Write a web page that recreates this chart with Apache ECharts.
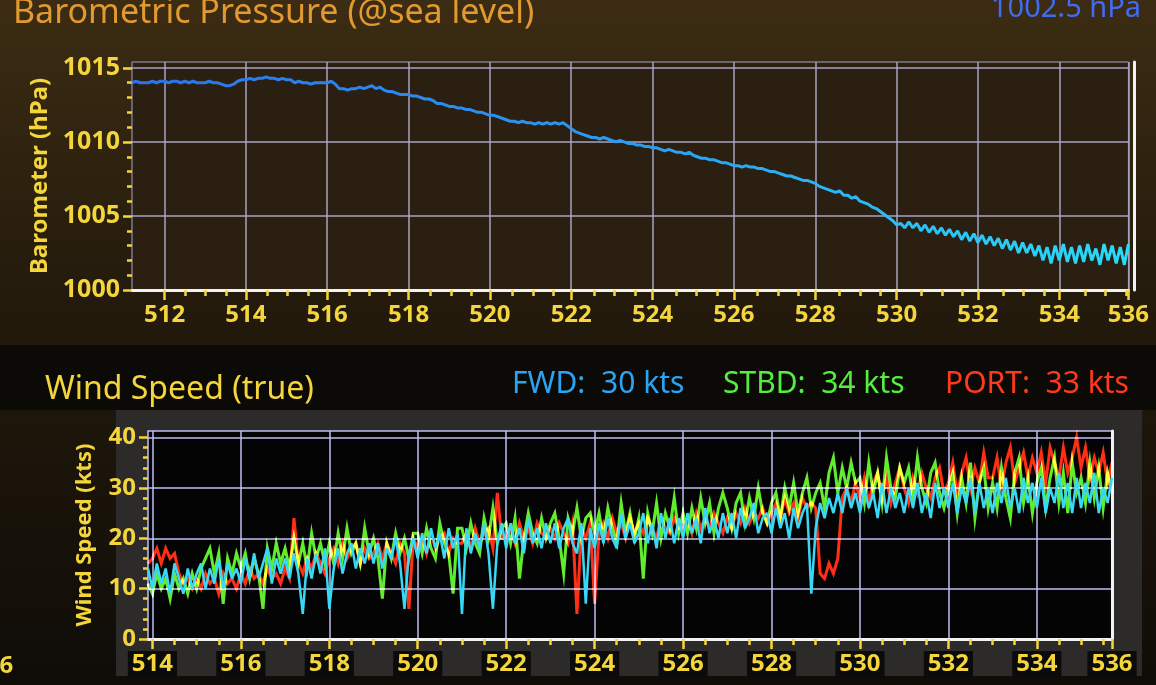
<!DOCTYPE html>
<html>
<head>
<meta charset="utf-8">
<title>Barometric Pressure / Wind Speed</title>
<script src="https://cdn.jsdelivr.net/npm/echarts@6/dist/echarts.min.js"></script>
<style>
html, body { margin: 0; padding: 0; background: #17110a; }
#chart { width: 1156px; height: 685px; }
</style>
</head>
<body>
<div id="chart"></div>
<script>
// barometer, one sample every 0.1 from 511.2
var pressStart = 511.2, pressStep = 0.1;
var pressure = [
    1014.0,1014.1,1014.0,
    1014.0,1014.0,1014.1,1014.0,1014.1,1014.1,1014.0,1014.1,1014.1,1014.0,
    1014.1,1014.0,1014.1,1014.0,1014.0,1014.0,1014.1,1014.0,1014.0,1013.9,
    1013.8,1013.8,1013.9,1014.1,1014.2,1014.2,1014.3,1014.2,1014.3,1014.3,
    1014.4,1014.3,1014.3,1014.2,1014.3,1014.2,1014.2,1014.0,1014.1,1014.0,
    1014.0,1013.9,1014.0,1014.0,1014.0,1014.0,1014.1,1013.9,1013.6,1013.6,
    1013.5,1013.6,1013.6,1013.7,1013.6,1013.7,1013.8,1013.6,1013.7,1013.5,
    1013.4,1013.4,1013.3,1013.2,1013.2,1013.2,1013.1,1013.1,1013.0,1012.9,
    1012.9,1012.8,1012.6,1012.6,1012.5,1012.4,1012.4,1012.3,1012.3,1012.2,
    1012.2,1012.1,1012.0,1012.0,1011.9,1011.8,1011.8,1011.7,1011.6,1011.5,
    1011.4,1011.4,1011.3,1011.4,1011.3,1011.3,1011.2,1011.3,1011.2,1011.3,
    1011.2,1011.3,1011.2,1011.3,1011.1,1010.9,1010.7,1010.6,1010.5,1010.4,
    1010.3,1010.3,1010.2,1010.3,1010.2,1010.1,1010.0,1010.1,1010.0,1009.9,
    1009.9,1009.8,1009.8,1009.7,1009.7,1009.6,1009.6,1009.5,1009.4,1009.5,
    1009.4,1009.3,1009.3,1009.2,1009.3,1009.1,1009.0,1008.9,1008.9,1008.8,
    1008.8,1008.7,1008.6,1008.6,1008.5,1008.4,1008.4,1008.3,1008.4,1008.3,
    1008.3,1008.2,1008.2,1008.1,1008.0,1008.0,1007.9,1007.8,1007.7,1007.7,
    1007.6,1007.5,1007.4,1007.4,1007.3,1007.2,1007.0,1006.9,1006.8,1006.7,
    1006.6,1006.7,1006.4,1006.4,1006.2,1006.3,1006.0,1005.9,1005.8,1005.6,
    1005.5,1005.3,1005.1,1004.9,1004.7,1004.4,1004.5,1004.2,1004.6,1004.2,
    1004.5,1004.0,1004.4,1003.9,1004.3,1003.8,1004.2,1003.7,1004.1,1003.6,
    1004.0,1003.4,1003.9,1003.3,1003.8,1003.2,1003.7,1003.1,1003.6,1003.0,
    1003.5,1002.8,1003.4,1002.7,1003.3,1002.5,1003.2,1002.5,1003.1,1002.3,
    1003.0,1002.0,1002.9,1001.8,1003.0,1002.0,1003.1,1001.9,1002.9,1001.8,
    1003.0,1001.9,1003.1,1002.0,1002.8,1001.7,1003.1,1002.0,1003.0,1001.8,
    1002.9,1001.7,1003.1
];

// wind speed (kts), one sample every 0.1 from 513.9
var windStart = 513.9, windStep = 0.1;
var windFwd = [
    14,
    10,15,11,14,9,15,12,9,14,10,
    13,15,10,14,11,16,10,15,12,14,
    11,16,12,17,12,15,18,11,16,13,
    16,12,17,13,5,16,12,17,13,18,
    6,14,18,13,17,19,14,18,15,19,
    15,19,14,18,16,20,15,6,17,20,
    16,21,17,22,18,21,16,22,18,21,
    5,22,17,21,18,23,17,6,19,23,
    18,23,19,22,17,24,19,22,18,23,
    19,23,18,22,24,19,17,23,7,22,
    18,23,19,24,20,18,25,20,23,19,
    21,25,19,23,18,25,20,24,19,24,
    20,25,21,24,19,26,21,24,20,25,
    21,25,20,26,22,24,27,21,24,25,
    21,26,22,25,20,26,22,25,27,9,
    22,27,24,28,25,29,25,30,26,29,
    25,30,26,29,24,31,25,30,26,29,
    25,30,26,31,25,29,24,31,26,30,
    26,31,25,30,27,32,25,31,26,30,
    25,31,27,32,26,30,25,32,27,31,
    26,32,25,30,27,33,26,31,25,32,
    26,31,27,33,25,30,27,32
];
var windStbd = [
    11,
    9,13,10,12,8,13,10,12,9,13,
    10,14,16,18,13,17,7,16,13,17,
    14,17,12,16,13,6,18,14,19,15,
    18,14,20,15,19,14,21,16,19,15,
    19,15,21,16,22,17,19,15,22,17,
    20,16,8,19,16,21,17,20,16,21,
    21,17,22,18,16,23,19,17,9,22,
    22,18,23,19,17,24,20,26,19,22,
    23,19,24,12,20,25,21,19,24,20,
    23,25,20,13,24,21,26,20,24,25,
    21,25,20,26,22,19,27,21,25,20,
    24,12,25,21,27,20,25,22,28,21,
    25,21,26,22,28,23,27,21,26,29,
    26,22,27,29,23,28,24,30,25,23,
    27,29,24,30,26,31,25,29,32,26,
    29,31,26,33,36,29,34,30,35,31,
    32,27,35,29,33,27,36,30,28,34,
    31,34,28,36,30,27,33,35,29,26,
    30,33,25,32,27,35,24,31,34,26,
    31,26,34,28,24,33,36,27,32,25,
    31,34,26,32,36,27,33,25,35,29,
    32,27,35,28,34,26,33,29
];
var windPort = [
    15,
    16,18,15,18,16,17,13,11,12,10,
    12,10,13,11,12,9,13,11,12,10,
    13,11,14,12,13,11,14,12,13,11,
    14,12,24,15,13,16,14,17,15,13,
    16,18,15,19,16,18,19,15,18,16,
    17,19,16,19,17,15,19,17,6,20,
    18,20,17,21,18,20,21,17,20,19,
    19,21,18,22,19,21,22,18,29,20,
    20,22,19,23,20,22,19,23,21,20,
    22,20,23,21,19,23,5,22,20,23,
    7,21,23,20,24,21,23,20,24,21,
    23,21,24,22,20,24,22,21,24,22,
    22,24,21,25,22,24,22,25,23,21,
    24,22,25,23,26,23,25,24,26,23,
    25,27,24,28,25,27,24,28,26,27,
    26,13,12,15,13,16,28,30,27,31,
    28,32,27,31,33,28,32,27,31,34,
    30,27,32,29,33,30,28,32,34,29,
    31,35,29,33,36,30,34,31,37,32,
    32,36,30,35,38,31,34,37,32,36,
    33,37,31,38,35,32,38,33,36,40,
    34,38,32,36,33,37,31,35
];

// axis ranges and tick values
var pressXMin = 511.2, pressXMax = 535.7;
var pressYMin = 1000, pressYMax = 1015.4;
var windXMin = 513.9, windXMax = 535.7;
var windYMin = 0, windYMax = 41.3;

var pressXTicks = [512, 514, 516, 518, 520, 522, 524, 526, 528, 530, 532, 534, 535.7];
var pressXMinor = [];
for (var t = 512.5; t < 535.7; t += 0.5) { if (t % 2 !== 0) pressXMinor.push(t); }
var pressYTicks = [1000, 1005, 1010, 1015];
var pressYMinor = [1001, 1002, 1003, 1004, 1006, 1007, 1008, 1009, 1011, 1012, 1013, 1014];

var windXTicks = [514, 516, 518, 520, 522, 524, 526, 528, 530, 532, 534, 535.7];
var windXMinor = [];
for (var u = 514.5; u < 535.7; u += 0.5) { if (u % 2 !== 0) windXMinor.push(u); }
var windYTicks = [0, 10, 20, 30, 40];
var windYMinor = [2, 4, 6, 8, 12, 14, 16, 18, 22, 24, 26, 28, 32, 34, 36, 38];

function toPairs(arr, start, step) {
    return arr.map(function (v, i) {
        return [Math.round((start + i * step) * 100) / 100, v];
    });
}
var pressData = toPairs(pressure, pressStart, pressStep);
var fwdData = toPairs(windFwd, windStart, windStep);
var stbdData = toPairs(windStbd, windStart, windStep);
var portData = toPairs(windPort, windStart, windStep);

var yellow = '#f4d63c';
var font = 'Noto Sans';
var plain = function (v) { return String(Math.round(v)); };

function mainX(grid, min, max, ticks, gridColor, bg) {
    return {
        type: 'value', gridIndex: grid, min: min, max: max,
        axisLine: { show: true, onZero: false, lineStyle: { color: '#f2f2f2', width: 3 } },
        axisTick: { show: true, customValues: ticks, length: 10, lineStyle: { color: yellow, width: 2.5 } },
        axisLabel: {
            show: true, customValues: ticks, color: yellow, fontFamily: font, fontSize: 24, fontWeight: 'bold',
            margin: 12, backgroundColor: bg, padding: [1, 4],
            formatter: plain
        },
        splitLine: { show: true, lineStyle: { color: gridColor, width: 1.5 } }
    };
}
function minorX(grid, min, max, ticks) {
    return {
        type: 'value', gridIndex: grid, min: min, max: max,
        axisLine: { show: false },
        axisTick: { show: true, customValues: ticks, length: 6, lineStyle: { color: yellow, width: 2.5 } },
        axisLabel: { show: false },
        splitLine: { show: false }
    };
}

var chart = echarts.init(document.getElementById('chart'));

var option = {
    animation: false,
    backgroundColor: {
        type: 'linear', x: 0, y: 0, x2: 0, y2: 1,
        colorStops: [
            { offset: 0, color: '#3c2c13' },
            { offset: 0.45, color: '#231a0c' },
            { offset: 1, color: '#0f0c08' }
        ]
    },
    graphic: [
        { type: 'rect', z: -1, shape: { x: 0, y: 345, width: 1156, height: 65 }, style: { fill: '#0c0a07' } },
        { type: 'rect', z: -1, shape: { x: 116, y: 410, width: 1026, height: 266 }, style: { fill: '#2c2b29' } },
        { type: 'text', left: -28, top: 654, style: { text: '536', fill: yellow, font: 'bold 24px Noto Sans' } }
    ],
    title: [
        { text: 'Barometric Pressure (@sea level)', left: 8, top: -9,
          textStyle: { color: '#e29a30', fontFamily: font, fontSize: 34, fontWeight: 'normal' } },
        { text: '1002.5 hPa', right: 10, top: -11,
          textStyle: { color: '#3f6cf0', fontFamily: font, fontSize: 29, fontWeight: 'normal' } },
        { text: 'Wind Speed (true)', left: 40, top: 369,
          textStyle: { color: yellow, fontFamily: font, fontSize: 32, fontWeight: 'normal' } },
        { text: 'FWD:  30 kts', left: 507, top: 364,
          textStyle: { color: '#2ba4f4', fontFamily: font, fontSize: 30, fontWeight: 'normal' } },
        { text: 'STBD:  34 kts', left: 718, top: 364,
          textStyle: { color: '#55ee40', fontFamily: font, fontSize: 30, fontWeight: 'normal' } },
        { text: 'PORT:  33 kts', left: 940, top: 364,
          textStyle: { color: '#ff3a1c', fontFamily: font, fontSize: 30, fontWeight: 'normal' } }
    ],
    grid: [
        { left: 132, top: 62, width: 1002, height: 228, show: true, backgroundColor: '#2a1f10', borderColor: '#a8a5c4', borderWidth: 1 },
        { left: 132, top: 62, width: 1002, height: 228 },
        { left: 148, top: 431, width: 964, height: 208, show: true, backgroundColor: '#040404', borderColor: '#bcc0f0', borderWidth: 1.5 },
        { left: 148, top: 431, width: 964, height: 208 }
    ],
    xAxis: [
        mainX(0, pressXMin, pressXMax, pressXTicks, '#a8a5c4', 'transparent'),
        minorX(1, pressXMin, pressXMax, pressXMinor),
        mainX(2, windXMin, windXMax, windXTicks, '#bcc0f0', '#0b0b0b'),
        minorX(3, windXMin, windXMax, windXMinor)
    ],
    yAxis: [
        {
            type: 'value', gridIndex: 0, min: pressYMin, max: pressYMax,
            name: 'Barometer (hPa)', nameLocation: 'middle', nameGap: 72, nameRotate: 90,
            nameTextStyle: { color: yellow, fontFamily: font, fontSize: 24, fontWeight: 'bold' },
            axisLine: { show: false },
            axisTick: { show: true, customValues: pressYTicks, length: 9, lineStyle: { color: yellow, width: 2.5 } },
            axisLabel: { customValues: pressYTicks, color: yellow, fontFamily: font, fontSize: 25, fontWeight: 'bold', margin: 12, formatter: plain },
            splitLine: { show: true, lineStyle: { color: '#a8a5c4', width: 1.5 } }
        },
        {
            type: 'value', gridIndex: 1, position: 'left', min: pressYMin, max: pressYMax,
            axisLine: { show: false },
            axisTick: { show: true, customValues: pressYMinor, length: 5, lineStyle: { color: yellow, width: 2.5 } },
            axisLabel: { show: false }, splitLine: { show: false }
        },
        {
            type: 'value', gridIndex: 1, position: 'right', min: pressYMin, max: pressYMax,
            axisLine: { show: true, lineStyle: { color: '#f2f2f2', width: 3 } },
            axisTick: { show: false }, axisLabel: { show: false }, splitLine: { show: false }
        },
        {
            type: 'value', gridIndex: 2, min: windYMin, max: windYMax,
            name: 'Wind Speed (kts)', nameLocation: 'middle', nameGap: 52, nameRotate: 90,
            nameTextStyle: { color: yellow, fontFamily: font, fontSize: 22, fontWeight: 'bold' },
            axisLine: { show: false },
            axisTick: { show: true, customValues: windYTicks, length: 9, lineStyle: { color: yellow, width: 2.5 } },
            axisLabel: { customValues: windYTicks, color: yellow, fontFamily: font, fontSize: 24, fontWeight: 'bold', margin: 12, formatter: plain },
            splitLine: { show: true, lineStyle: { color: '#bcc0f0', width: 1.5 } }
        },
        {
            type: 'value', gridIndex: 3, position: 'left', min: windYMin, max: windYMax,
            axisLine: { show: false },
            axisTick: { show: true, customValues: windYMinor, length: 5, lineStyle: { color: yellow, width: 2.5 } },
            axisLabel: { show: false }, splitLine: { show: false }
        },
        {
            type: 'value', gridIndex: 3, position: 'right', min: windYMin, max: windYMax,
            axisLine: { show: true, lineStyle: { color: '#f2f2f2', width: 3 } },
            axisTick: { show: false }, axisLabel: { show: false }, splitLine: { show: false }
        }
    ],
    series: [
        {
            name: 'Barometer', type: 'line', xAxisIndex: 0, yAxisIndex: 0,
            data: pressData, symbol: 'none',
            lineStyle: {
                width: 3,
                color: {
                    type: 'linear', x: 0, y: 0, x2: 1, y2: 0,
                    colorStops: [
                        { offset: 0, color: '#2b72ec' },
                        { offset: 0.5, color: '#2a9cf0' },
                        { offset: 1, color: '#28dcfa' }
                    ]
                }
            }
        },
        {
            name: 'PORT', type: 'lines', coordinateSystem: 'cartesian2d', xAxisIndex: 2, yAxisIndex: 3,
            polyline: true, blendMode: 'lighter', z: 2,
            data: [{ coords: portData }],
            lineStyle: { color: '#ff2a10', width: 3, opacity: 1 }
        },
        {
            name: 'STBD', type: 'lines', coordinateSystem: 'cartesian2d', xAxisIndex: 2, yAxisIndex: 3,
            polyline: true, blendMode: 'lighter', z: 2,
            data: [{ coords: stbdData }],
            lineStyle: { color: '#5ee82a', width: 3, opacity: 1 }
        },
        {
            name: 'FWD', type: 'line', xAxisIndex: 2, yAxisIndex: 3, z: 3,
            data: fwdData, symbol: 'none',
            lineStyle: { color: '#38d8f6', width: 2.5 }
        }
    ]
};
chart.setOption(option);

window.onresize = function () {
    chart.resize();
};
</script>
</body>
</html>
